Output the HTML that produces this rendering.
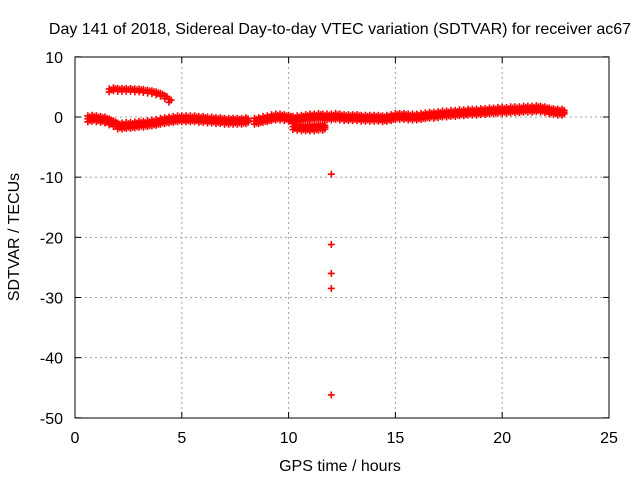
<!DOCTYPE html>
<html><head><meta charset="utf-8"><style>
body{margin:0;background:#fff}
svg text{font-family:"Liberation Sans",sans-serif;font-size:16px;fill:#000}
</style></head><body>
<svg width="640" height="480" xmlns="http://www.w3.org/2000/svg">
<text x="340" y="34" text-anchor="middle">Day 141 of 2018, Sidereal Day-to-day VTEC variation (SDTVAR) for receiver ac67</text>
<g id="grid"></g>
<rect x="75" y="57" width="534" height="361" fill="none" stroke="#000"/>
<g id="axes"></g>
<g id="marks"></g>
<text x="340" y="471" text-anchor="middle">GPS time / hours</text>
<text x="19" y="237" text-anchor="middle" transform="rotate(-90 19 237)">SDTVAR / TECUs</text>
</svg>
<script>
const xTicks=[0,5,10,15,20,25];
const yTicks=[10,0,-10,-20,-30,-40,-50];
const mainT=[0.6,0.8,1.0,1.2,1.4,1.6,1.8,2.0,2.2,2.4,2.6,2.8,3.0,3.2,3.4,3.6,3.8,4.0,4.2,4.4,4.6,4.8,5.0,5.2,5.4,5.6,5.8,6.0,6.2,6.4,6.6,6.8,7.0,7.2,7.4,7.6,7.8,8.0,8.4,8.6,8.8,9.0,9.2,9.4,9.6,9.8,10.0,10.2,10.4,10.6,10.8,11.0,11.2,11.4,11.6,11.8,12.0,12.2,12.4,12.6,12.8,13.0,13.2,13.4,13.6,13.8,14.0,14.2,14.4,14.6,14.8,15.0,15.2,15.4,15.6,15.8,16.0,16.2,16.4,16.6,16.8,17.0,17.2,17.4,17.6,17.8,18.0,18.2,18.4,18.6,18.8,19.0,19.2,19.4,19.6,19.8,20.0,20.2,20.4,20.6,20.8,21.0,21.2,21.4,21.6,21.8,22.0,22.2,22.4,22.6,22.8];
const mainV=[-0.3,-0.2,-0.3,-0.4,-0.5,-0.8,-1.1,-1.5,-1.5,-1.4,-1.4,-1.3,-1.2,-1.2,-1.1,-1.0,-0.9,-0.7,-0.6,-0.5,-0.4,-0.3,-0.3,-0.3,-0.3,-0.3,-0.4,-0.4,-0.5,-0.5,-0.6,-0.6,-0.7,-0.7,-0.7,-0.7,-0.7,-0.6,-0.7,-0.6,-0.4,-0.3,-0.1,0.0,0.0,-0.1,-0.2,-0.4,-0.3,-0.2,-0.1,0.0,0.0,0.1,0.0,0.0,0.0,0.1,0.0,-0.1,-0.1,-0.1,-0.1,-0.2,-0.2,-0.2,-0.2,-0.2,-0.3,-0.2,-0.1,0.1,0.1,0.1,0.0,0.0,0.0,0.1,0.2,0.3,0.3,0.4,0.5,0.5,0.6,0.6,0.7,0.7,0.8,0.8,0.8,0.9,0.9,1.0,1.0,1.1,1.1,1.1,1.2,1.2,1.2,1.3,1.3,1.3,1.4,1.3,1.2,1.0,0.9,0.8,0.8];
const lowT=[10.2,10.4,10.6,10.8,11.0,11.2,11.4,11.6];
const lowV=[-1.6,-1.7,-1.8,-1.8,-1.8,-1.8,-1.7,-1.7];
const upT=[1.6,1.8,2.0,2.2,2.4,2.6,2.8,3.0,3.2,3.4,3.6,3.8,4.0,4.2,4.4];
const upV=[4.5,4.7,4.6,4.6,4.6,4.6,4.5,4.5,4.4,4.3,4.2,4.0,3.8,3.4,2.8];
const outT=[12.0,12.0,12.0,12.0,12.0];
const outV=[-9.5,-21.2,-26.0,-28.5,-46.2];
const X=t=>75+t*(534/25), Y=v=>117-v*6.0167;
const ns="http://www.w3.org/2000/svg";
const grid=document.getElementById('grid'),axes=document.getElementById('axes'),marks=document.getElementById('marks');
function mk(tag,at,p){const e=document.createElementNS(ns,tag);for(const k in at)e.setAttribute(k,at[k]);p.appendChild(e);return e;}
xTicks.forEach(t=>{const x=X(t);
 if(t>0&&t<25){const g=mk('line',{x1:x,x2:x,y1:57,y2:418,stroke:'#a0a0a0','stroke-dasharray':'2,3'},grid);
 
 }
 mk('line',{x1:x,x2:x,y1:418,y2:412,stroke:'#000'},axes);mk('line',{x1:x,x2:x,y1:57,y2:63,stroke:'#000'},axes);
 const l=mk('text',{x:x,y:443,'text-anchor':'middle'},axes);l.textContent=t;
 
 });
yTicks.forEach(v=>{const y=Y(v);
 if(v<10&&v>-50){const g=mk('line',{x1:75,x2:609,y1:y,y2:y,stroke:'#a0a0a0','stroke-dasharray':'2,3'},grid);
 
 }
 mk('line',{x1:75,x2:81,y1:y,y2:y,stroke:'#000'},axes);mk('line',{x1:603,x2:609,y1:y,y2:y,stroke:'#000'},axes);
 const l=mk('text',{x:63,y:y+6,'text-anchor':'end'},axes);l.textContent=v;
 
 });
function plus(t,v,dy){const x=X(t),y=Y(v)+dy;
 const p=mk('path',{d:`M${x-3.5} ${y}h7M${x} ${y-3.5}v7`,stroke:'#f00','stroke-width':1.6,fill:'none'},marks);
 
 }
function band(T,V){T.forEach((t,i)=>{[-3,0,3].forEach(d=>{plus(t,V[i],d);plus(t+0.1,V[i],d*0.6);});});}
band(mainT,mainV);band(lowT,lowV);
upT.forEach((t,i)=>{plus(t,upV[i],-1);plus(t,upV[i],2);plus(t+0.1,upV[i],0);});
outT.forEach((t,i)=>plus(t,outV[i],0));
</script>
</body></html>
